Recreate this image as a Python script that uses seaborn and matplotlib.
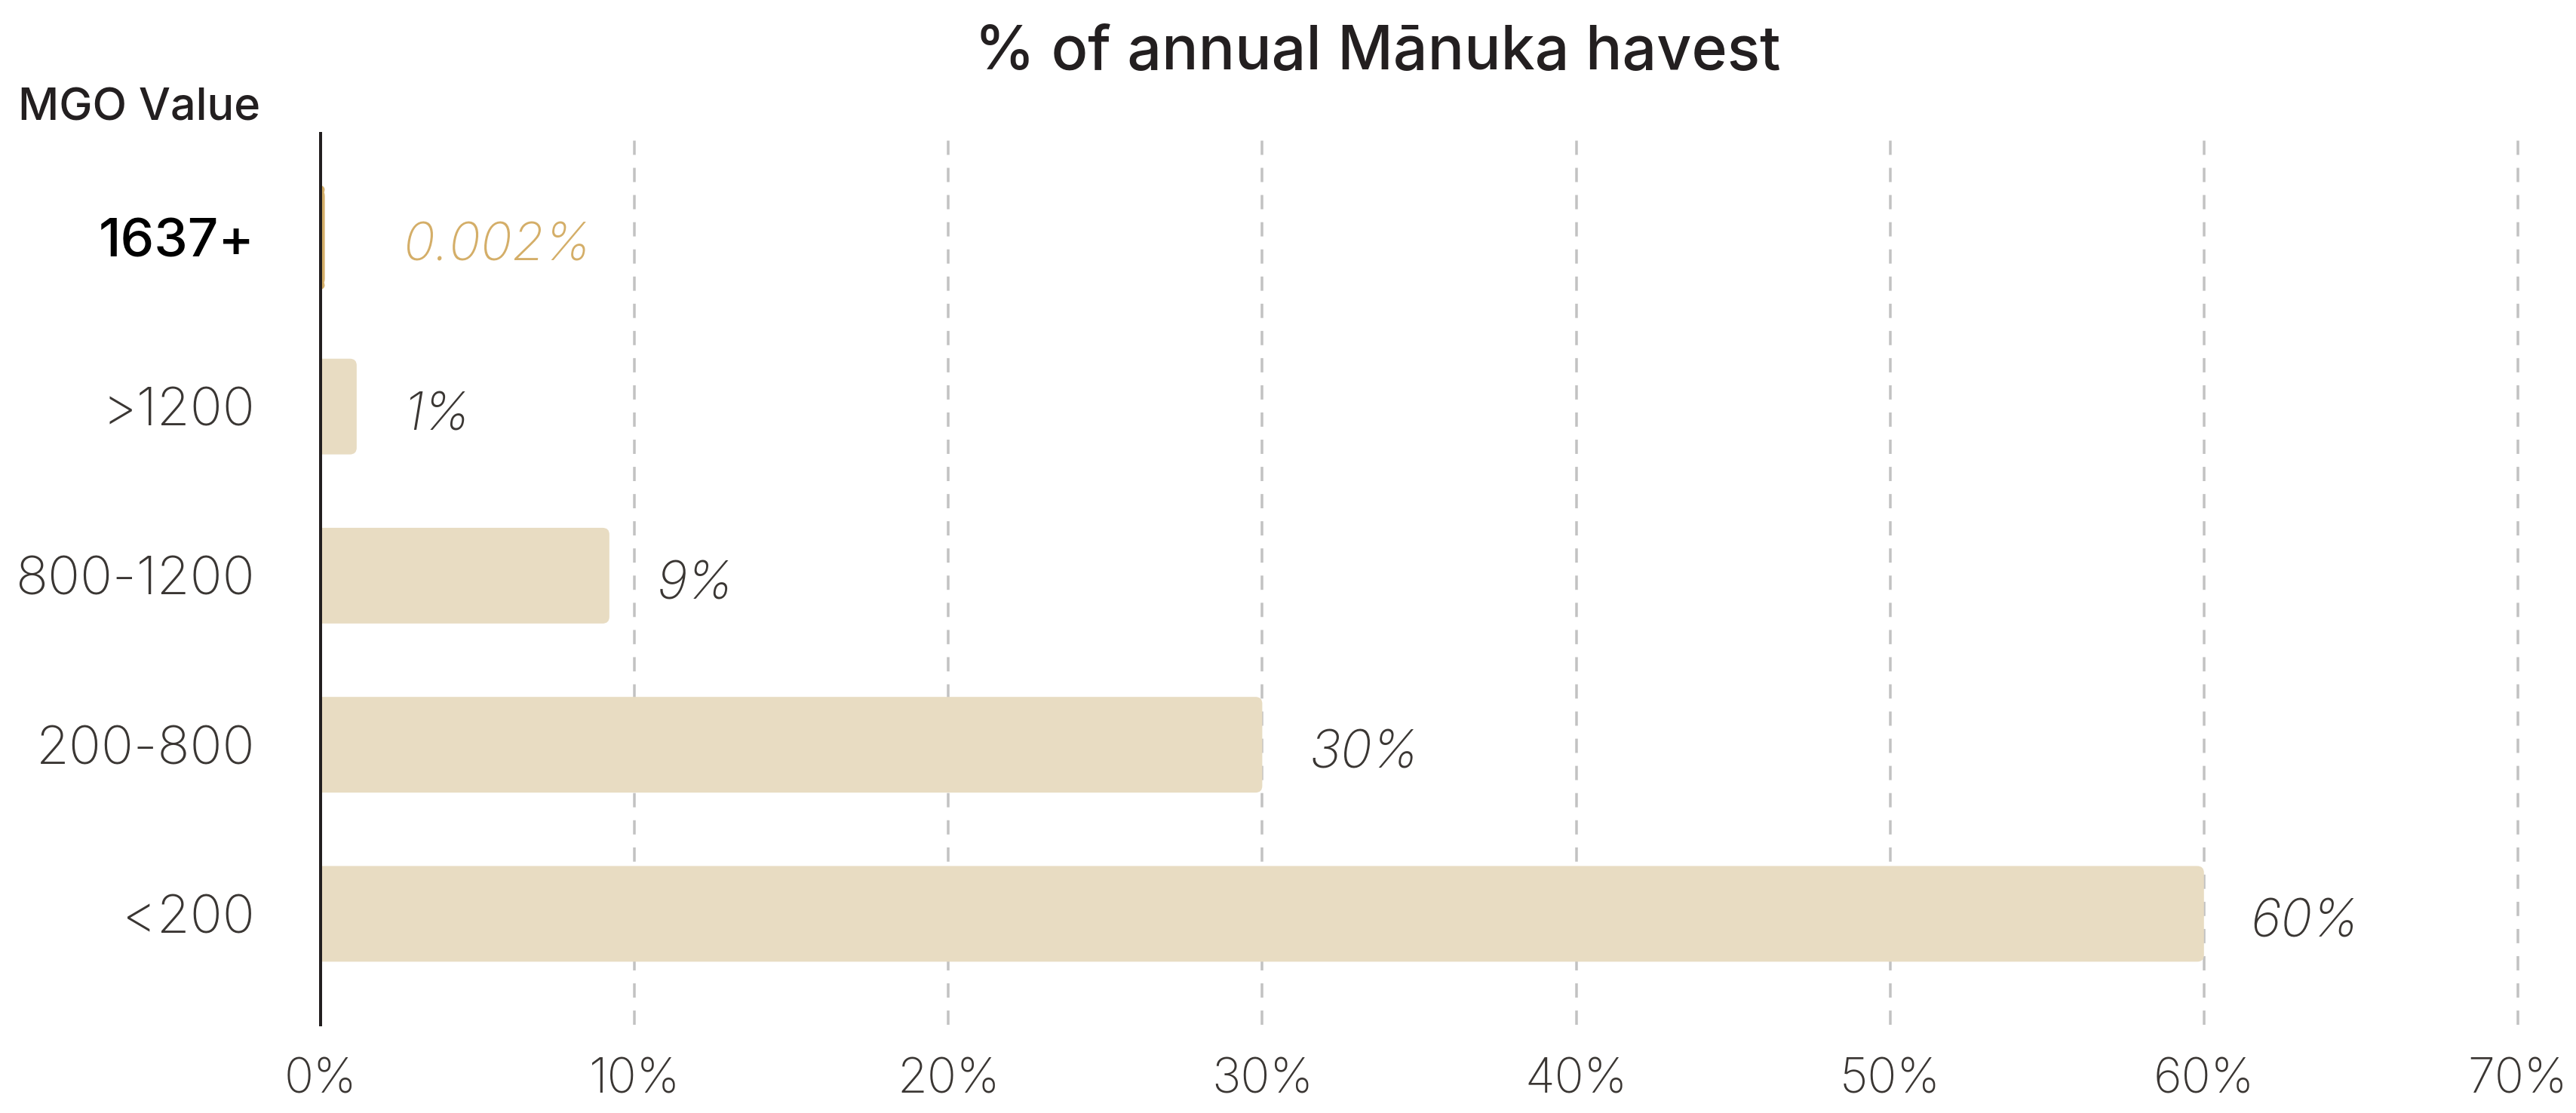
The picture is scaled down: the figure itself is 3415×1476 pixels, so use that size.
import matplotlib
matplotlib.use("Agg")
import matplotlib.pyplot as plt
import seaborn as sns
import pandas as pd
from matplotlib.patches import FancyBboxPatch

# ---- data ----
categories = ["1637+", ">1200", "800-1200", "200-800", "<200"]
bar_values = [0.002, 1.15, 9.2, 30.0, 60.0]
value_labels = ["0.002%", "1%", "9%", "30%", "60%"]
x_ticks = [0, 10, 20, 30, 40, 50, 60, 70]
x_tick_labels = ["0%", "10%", "20%", "30%", "40%", "50%", "60%", "70%"]
chart_title = "% of annual Mānuka havest"
y_title = "MGO Value"

# ---- style ----
BAR = "#E8DCC2"
GOLD = "#D4AE68"
INK = "#3A3633"
AXIS = "#231F20"
GRID = "#C2C2C2"

sns.set_theme(style="white")
plt.rcParams["font.family"] = ["Inter", "DejaVu Sans"]

W, H, DPI = 3416, 1476, 200
fig = plt.figure(figsize=(W / DPI, H / DPI), dpi=DPI)
px = 72.0 / DPI  # points per pixel

left_px, right_px, top_px, bottom_px = 425, 3340, 177, 1359
ax = fig.add_axes([left_px / W, 1 - bottom_px / H,
                   (right_px - left_px) / W, (bottom_px - top_px) / H])

df = pd.DataFrame({"cat": categories, "val": bar_values})
sns.barplot(data=df, x="val", y="cat", order=categories, ax=ax,
            color=BAR, saturation=1, width=0.566, edgecolor="none")

ax.set_xlim(0, 70.05)
ax.set_ylim(4.656, -0.615)

# rounded bar ends (replace seaborn rectangles by rounded boxes of same extent)
fig.canvas.draw()
x_unit = ax.transData.transform((1, 0))[0] - ax.transData.transform((0, 0))[0]
y_unit = abs(ax.transData.transform((0, 1))[1] - ax.transData.transform((0, 0))[1])
r = 9 / x_unit
asp = x_unit / y_unit
for i, p in enumerate(list(ax.patches)):
    x0, y0, w, h = p.get_x(), p.get_y(), p.get_width(), p.get_height()
    p.remove()
    first = i == 0
    fb = FancyBboxPatch((x0 - r, y0), w + r, h,
                        boxstyle=f"round,pad=0,rounding_size={r}",
                        mutation_aspect=asp,
                        facecolor=GOLD if first else BAR,
                        edgecolor=GOLD if first else "none",
                        linewidth=11 * px if first else 0,
                        joinstyle="round",
                        zorder=2, clip_on=True)
    ax.add_patch(fb)

# grid
ax.set_axisbelow(True)
ax.xaxis.grid(True, color=GRID, linewidth=3.5 * px, linestyle=(0, (5.4, 4.9)))
ax.yaxis.grid(False)
ax.set_xticks(x_ticks)
ax.set_xticklabels(x_tick_labels)
ax.get_xgridlines()[0].set_visible(False)

for s in ["top", "right", "bottom"]:
    ax.spines[s].set_visible(False)
ax.spines["left"].set_color(AXIS)
ax.spines["left"].set_linewidth(4 * px)
ax.spines["left"].set_zorder(5)

ax.tick_params(axis="x", length=0, pad=44 * px, labelsize=23.3, labelcolor=INK)
ax.tick_params(axis="y", length=0, pad=87 * px, labelsize=25.6, labelcolor=INK)
for t in ax.get_xticklabels() + ax.get_yticklabels():
    t.set_fontweight("light")
yl = ax.get_yticklabels()[0]
yl.set_color("black")
yl.set_fontweight("medium")
ax.set_xlabel("")
ax.set_ylabel("")

# value labels
min_label_x = 1.15
for i, (v, lab) in enumerate(zip(bar_values, value_labels)):
    ax.annotate(lab, xy=(max(v, min_label_x), i), xycoords="data",
                xytext=(62 * px, -31 * px), textcoords="offset points",
                ha="left", va="baseline", fontsize=25.0, style="italic",
                fontweight="light", color=GOLD if i == 0 else INK,
                annotation_clip=False)

fig.text(1826 / W, 1 - 92 / H, chart_title, ha="center", va="baseline",
         fontsize=29.0, fontweight="medium", color="#231F20")
fig.text(24 / W, 1 - 160 / H, y_title, ha="left", va="baseline",
         fontsize=21.4, fontweight="medium", color="#231F20")

fig.savefig("out.png", dpi=DPI)
